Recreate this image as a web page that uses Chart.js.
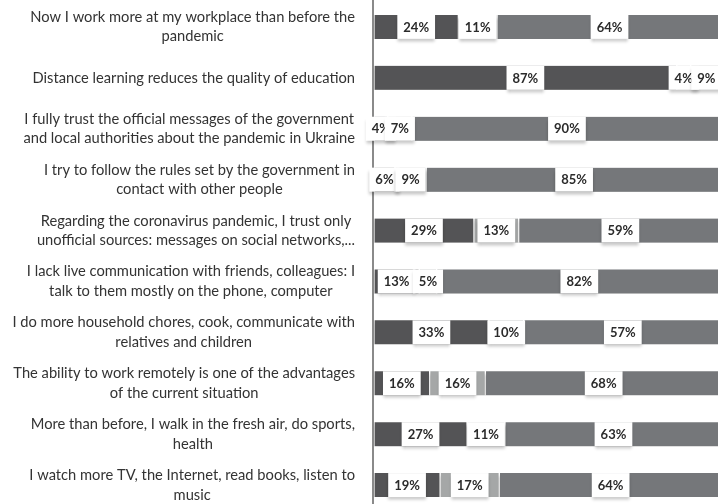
<!DOCTYPE html>
<html><head><meta charset="utf-8">
<script src="https://cdn.jsdelivr.net/npm/chart.js@4.4.1/dist/chart.umd.min.js"></script>
<style>html,body{margin:0;padding:0;overflow:hidden;background:#fff;width:718px;height:504px}
canvas{display:block}</style></head>
<body><canvas id="c" width="726" height="512"></canvas>
<script>
const categories = [
  ["Now I work more at my workplace than before the", "pandemic"],
  ["Distance learning reduces the quality of education"],
  ["I fully trust the official messages of the government", "and local authorities about the pandemic in Ukraine"],
  ["I try to follow the rules set by the government in", "contact with other people"],
  ["Regarding the coronavirus pandemic, I trust only", "unofficial sources: messages on social networks,..."],
  ["I lack live communication with friends, colleagues: I", "talk to them mostly on the phone, computer"],
  ["I do more household chores, cook, communicate with", "relatives and children"],
  ["The ability to work remotely is one of the advantages", "of the current situation"],
  ["More than before, I walk in the fresh air, do sports,", "health"],
  ["I watch more TV, the Internet, read books, listen to", "music"]
];
const series1 = [24, 87, 4, 6, 29, 13, 33, 16, 27, 19];
const series2 = [11, 4, 7, 9, 13, 5, 10, 16, 11, 17];
const series3 = [64, 9, 90, 85, 59, 82, 57, 68, 63, 64];

const raw = [series1, series2, series3];
const totals = categories.map((_, i) => raw.reduce((s, a) => s + a[i], 0));
const share = a => a.map((v, i) => v / totals[i] * 100);
const colors = ['#545456', '#a5a7a7', '#75777a'];

const shadowPlugin = {
  id: 'shadow',
  beforeDatasetsDraw(chart) {
    const ctx = chart.ctx;
    ctx.save();
    ctx.shadowColor = 'rgba(0,0,0,0.28)';
    ctx.shadowOffsetY = 3;
    ctx.shadowBlur = 3;
  },
  afterDatasetsDraw(chart) {
    chart.ctx.restore();
  }
};

const labelPlugin = {
  id: 'labels',
  afterDraw(chart) {
    const ctx = chart.ctx;
    const area = chart.chartArea;
    const yScale = chart.scales.y;
    ctx.save();
    // axis line
    ctx.strokeStyle = '#8a8a8a';
    ctx.lineWidth = 2;
    ctx.beginPath();
    ctx.moveTo(area.left - 1, 0);
    ctx.lineTo(area.left - 1, chart.height);
    ctx.stroke();
    // category labels
    ctx.font = '14.7px Lato';
    ctx.fillStyle = '#333333';
    ctx.textAlign = 'center';
    ctx.textBaseline = 'middle';
    const lh = 19.5;
    const rightEdge = 355;
    categories.forEach((lines, i) => {
      const y = yScale.getPixelForValue(i);
      const widest = Math.max(...lines.map(l => ctx.measureText(l).width));
      const cx = rightEdge - widest / 2;
      const y0 = y - (lines.length - 1) * lh / 2;
      lines.forEach((l, k) => ctx.fillText(l, cx, y0 + k * lh));
    });
    // data labels
    ctx.font = 'bold 13px Lato';
    chart.data.datasets.forEach((ds, d) => {
      const meta = chart.getDatasetMeta(d);
      meta.data.forEach((el, i) => {
        const txt = raw[d][i] + '%';
        const w = ctx.measureText(txt).width + 12;
        const cx = (el.base + el.x) / 2;
        const h = el.height;
        ctx.save();
        ctx.shadowColor = 'rgba(0,0,0,0.22)';
        ctx.shadowOffsetY = 3;
        ctx.shadowBlur = 3;
        ctx.fillStyle = '#ffffff';
        ctx.fillRect(cx - w / 2, el.y - h / 2, w, h);
        ctx.restore();
        ctx.fillStyle = '#2b2b2b';
        ctx.fillText(txt, cx, el.y + 0.5);
      });
    });
    ctx.restore();
  }
};

new Chart(document.getElementById('c'), {
  type: 'bar',
  data: {
    labels: categories,
    datasets: raw.map((a, d) => ({
      label: 'Series ' + (d + 1),
      data: share(a),
      backgroundColor: colors[d],
      borderColor: '#ffffff',
      borderWidth: { left: 1, right: 1, top: 0, bottom: 0 },
      borderSkipped: false,
      barThickness: 24
    }))
  },
  options: {
    indexAxis: 'y',
    responsive: false,
    animation: false,
    devicePixelRatio: 1,
    layout: { padding: { left: 374, right: 4, top: 1.5, bottom: 1.5 } },
    plugins: { legend: { display: false }, tooltip: { enabled: false } },
    scales: {
      x: { stacked: true, min: 0, max: 100, display: false },
      y: { stacked: true, display: false }
    }
  },
  plugins: [shadowPlugin, labelPlugin]
});
</script>
</body></html>
